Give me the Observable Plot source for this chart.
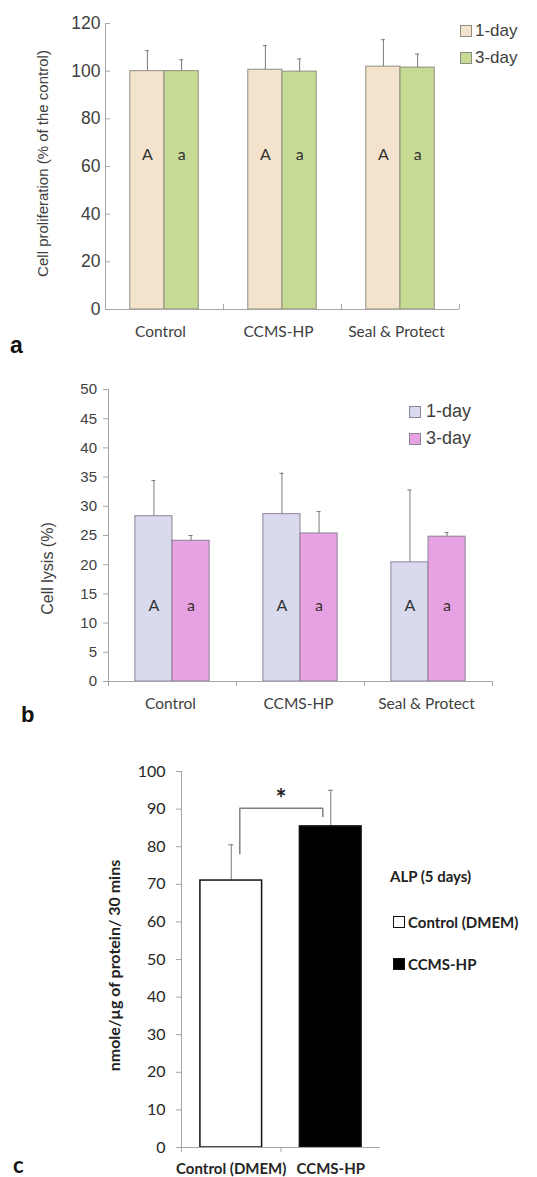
<!DOCTYPE html>
<html><head><meta charset="utf-8">
<script src="https://cdn.jsdelivr.net/npm/d3@7"></script>
<script src="https://cdn.jsdelivr.net/npm/@observablehq/plot@0.6"></script>
<style>
html,body{margin:0;padding:0;background:#fff;}
#root{position:relative;width:537px;height:1177px;overflow:hidden;background:#fff;}
.panel{position:absolute;left:0;}
.lbl{position:absolute;line-height:1;font-weight:bold;color:#111;}
.leg{position:absolute;display:flex;align-items:center;height:20px;white-space:nowrap;}
.sw{display:inline-block;width:12px;height:12px;box-sizing:border-box;flex:none;}
</style></head><body><div id="root"></div>
<script>
// ---------- data ----------
const catsAB = ["Control", "CCMS-HP", "Seal & Protect"];
const days = ["1-day", "3-day"];
const groupLetters = ["A", "a"];

const prolif1 = [100, 100.6, 101.9];
const prolif1Err = [8.6, 10.1, 11.3];
const prolif3 = [100, 99.8, 101.5];
const prolif3Err = [4.8, 5.3, 5.7];
const ticksA = [0, 20, 40, 60, 80, 100, 120];
const yLabelA = "Cell proliferation (% of the control)";

const lysis1 = [28.3, 28.65, 20.4];
const lysis1Err = [6.1, 7.0, 12.4];
const lysis3 = [24.1, 25.35, 24.8];
const lysis3Err = [0.9, 3.75, 0.7];
const ticksB = [0, 5, 10, 15, 20, 25, 30, 35, 40, 45, 50];
const yLabelB = "Cell lysis (%)";

const catsC = ["Control (DMEM)", "CCMS-HP"];
const alp = [71.0, 85.4];
const alpErr = [9.5, 9.6];
const ticksC = [0, 10, 20, 30, 40, 50, 60, 70, 80, 90, 100];
const yLabelC = "nmole/µg of protein/ 30 mins";
const legendTitleC = "ALP (5 days)";
const sigMark = "*";

// ---------- styles ----------
const W = 537;
const ARIAL = "'Liberation Sans', Arial, sans-serif";
const CAL = "Lato, 'Open Sans', sans-serif";
const AX = "#a6a6a6";
const ERR = "#7a7a7a";
const colorsA = ["#f3e2cc", "#c6da94"];
const colorsB = ["#dadaef", "#e6a2e2"];
const colorsC = ["#ffffff", "#000000"];
const GROUP_START = 0.21, BAR_W = 0.29;

function groupedRows(cats, s1, e1, s2, e2) {
  const rows = [];
  cats.forEach((cat, i) => {
    [[s1, e1], [s2, e2]].forEach(([s, e], j) => {
      const x1 = i + GROUP_START + j * BAR_W;
      rows.push({cat, day: days[j], j, value: s[i], hi: s[i] + e[i],
        x1, x2: x1 + BAR_W, xc: x1 + BAR_W / 2, letter: groupLetters[j]});
    });
  });
  return rows;
}

function groupedPlot(o) {
  const inside = o.inside;
  return Plot.plot({
    width: W, height: o.height,
    marginLeft: o.ml, marginRight: o.mr, marginTop: o.mt, marginBottom: o.mb,
    x: {type: "linear", domain: [0, o.cats.length]},
    y: {domain: o.yDomain},
    style: {background: "transparent", overflow: "visible", color: "#404040", fontFamily: ARIAL},
    marks: [
      Plot.rectY(o.rows, {x1: "x1", x2: "x2", y1: 0, y2: "value", fill: d => o.colors[d.j], stroke: o.barStroke, strokeWidth: 1}),
      Plot.ruleX(o.rows, {x: "xc", y1: "value", y2: "hi", stroke: ERR, strokeWidth: 1}),
      Plot.ruleY(o.rows, {y: "hi", x1: "xc", x2: "xc", insetLeft: -2, insetRight: -2, stroke: ERR}),
      Plot.text(o.rows, {x: "xc", y: o.letterY, text: "letter", fontFamily: CAL, fontSize: 16, fill: "#333"}),
      Plot.ruleY([0], {stroke: AX}),
      Plot.ruleX([0], {stroke: AX}),
      Plot.ruleX(o.sepTicks, {y1: 0, y2: 0, insetTop: inside ? -5 : 0, insetBottom: inside ? 0 : -5, stroke: AX}),
      Plot.ruleY(o.yTicks, {x1: 0, x2: 0, insetRight: inside ? -5 : 0, insetLeft: inside ? 0 : -5, stroke: AX}),
      Plot.axisY({ticks: o.yTicks, tickSize: 0, tickPadding: o.yPad, fontSize: o.yFont, fontFamily: ARIAL, label: null}),
      Plot.axisX({ticks: o.cats.map((c, i) => i + 0.5), tickFormat: v => o.cats[Math.floor(v)], tickSize: 0, tickPadding: 16, fontFamily: CAL, fontSize: 15.5, dx: o.catDx, label: null}),
      Plot.text([o.yLabel], {text: d => d, frameAnchor: "left", textAnchor: "middle", lineAnchor: "middle", dx: o.ydx, dy: o.ydy, rotate: -90, fontSize: o.yLabelFont, fontFamily: ARIAL, fill: "#404040"})
    ]
  });
}

const root = document.getElementById("root");
function place(el, top) {
  const d = document.createElement("div");
  d.className = "panel";
  d.style.top = top + "px";
  d.appendChild(el);
  root.appendChild(d);
}
function label(text, left, top, size, font) {
  const d = document.createElement("div");
  d.className = "lbl";
  d.textContent = text;
  Object.assign(d.style, {left: left + "px", top: top + "px", fontSize: size + "px", fontFamily: font});
  root.appendChild(d);
}
function legendRow(left, cy, fill, stroke, text, size, font, weight, gap, color) {
  const d = document.createElement("div");
  d.className = "leg";
  Object.assign(d.style, {left: left + "px", top: (cy - 10) + "px", fontSize: size + "px", fontFamily: font, fontWeight: weight, color});
  if (fill !== null) {
    const s = document.createElement("span");
    s.className = "sw";
    Object.assign(s.style, {background: fill, border: "1px solid " + stroke, marginRight: gap + "px"});
    d.appendChild(s);
  }
  const t = document.createElement("span");
  t.textContent = text;
  d.appendChild(t);
  root.appendChild(d);
}

// ---------- panel a ----------
place(groupedPlot({
  rows: groupedRows(catsAB, prolif1, prolif1Err, prolif3, prolif3Err),
  cats: catsAB, colors: colorsA, barStroke: "#8f8f80",
  height: 345, ml: 105, mr: 78, mt: 23, mb: 36,
  yDomain: [0, 120], yTicks: ticksA, yPad: 5, yFont: 17.5,
  sepTicks: [1, 2, 3], inside: true, letterY: 65, catDx: -4,
  yLabel: yLabelA, ydx: -62, ydy: -3, yLabelFont: 15
}), 0);
days.forEach((d, j) => legendRow(460, 31 + j * 26.5, colorsA[j], "#8f8f80", d, 17, ARIAL, "normal", 3, "#404040"));
label("a", 10, 333.5, 23, ARIAL);

// ---------- panel b ----------
place(groupedPlot({
  rows: groupedRows(catsAB, lysis1, lysis1Err, lysis3, lysis3Err),
  cats: catsAB, colors: colorsB, barStroke: "#8d8396",
  height: 361, ml: 108, mr: 45, mt: 29, mb: 40,
  yDomain: [0, 50], yTicks: ticksB, yPad: 11.5, yFont: 15,
  sepTicks: [0, 1, 2, 3], inside: false, letterY: 13, catDx: -2,
  yLabel: yLabelB, ydx: -61, ydy: 33, yLabelFont: 16
}), 360);
days.forEach((d, j) => legendRow(409, 411.5 + j * 27, colorsB[j], "#8d8396", d, 18, ARIAL, "normal", 5, "#404040"));
label("b", 21, 703.5, 22, ARIAL);

// ---------- panel c ----------
const rowsC = catsC.map((cat, i) => ({cat, i, value: alp[i], hi: alp[i] + alpErr[i],
  x1: i + 0.19, x2: i + 0.81, xc: i + 0.5}));
const bracket = [
  {x: 0.586, y: 78.1}, {x: 0.586, y: 90.2}, {x: 1.42, y: 90.2}, {x: 1.42, y: 88.0}
];
place(Plot.plot({
  width: W, height: 437, marginLeft: 181, marginRight: 157, marginTop: 31, marginBottom: 30,
  x: {type: "linear", domain: [0, catsC.length]},
  y: {domain: [0, 100]},
  style: {background: "transparent", overflow: "visible", color: "#262626", fontFamily: CAL},
  marks: [
    Plot.ruleX(rowsC, {x: "xc", y1: "value", y2: "hi", stroke: ERR, strokeWidth: 1}),
    Plot.ruleY(rowsC, {y: "hi", x1: "xc", x2: "xc", insetLeft: -2.5, insetRight: -2.5, stroke: ERR}),
    Plot.rectY(rowsC, {x1: "x1", x2: "x2", y1: 0, y2: "value", fill: d => colorsC[d.i], stroke: "#111", strokeWidth: 1.5}),
    Plot.line(bracket, {x: "x", y: "y", stroke: "#808080", strokeWidth: 1.5}),
    Plot.text([sigMark], {text: d => d, x: 1, y: 92.5, fontSize: 26, fontWeight: "bold", fontFamily: CAL, fill: "#222"}),
    Plot.ruleY([0], {stroke: AX}),
    Plot.ruleX([0], {stroke: AX}),
    Plot.ruleX([0, 1], {y1: 0, y2: 0, insetBottom: -5, stroke: AX}),
    Plot.ruleY(ticksC, {x1: 0, x2: 0, insetLeft: -5, stroke: AX}),
    Plot.axisY({ticks: ticksC, tickSize: 0, tickPadding: 16, fontSize: 16, fontFamily: CAL, label: null}),
    Plot.axisX({ticks: catsC.map((c, i) => i + 0.5), tickFormat: v => catsC[Math.floor(v)], tickSize: 0, tickPadding: 16, fontFamily: CAL, fontSize: 15, fontWeight: "bold", label: null}),
    Plot.text([yLabelC], {text: d => d, frameAnchor: "left", textAnchor: "middle", lineAnchor: "middle", dx: -67, dy: 6, rotate: -90, fontSize: 16, fontWeight: "bold", fontFamily: CAL, fill: "#222"})
  ]
}), 740);
legendRow(390, 876, null, null, legendTitleC, 15, CAL, "bold", 0, "#222");
catsC.forEach((c, i) => legendRow(393, 921.5 + i * 42, colorsC[i], "#111", c, 15, CAL, "bold", 3, "#222"));
label("c", 13, 1153.5, 22, CAL);
</script></body></html>
